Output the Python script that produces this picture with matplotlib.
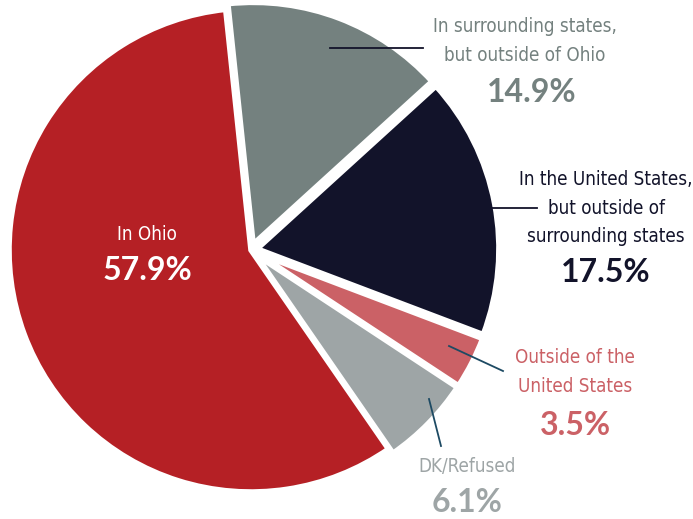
import matplotlib.pyplot as plt

# Werte aus der Grafik
labels = [
    "In surrounding states,\nbut outside of Ohio",
    "In the United States,\nbut outside of\nsurrounding states",
    "Outside of the\nUnited States",
    "DK/Refused",
    "In Ohio",
]
values = [14.9, 17.5, 3.5, 6.1, 57.9]
pct_labels = ["14.9%", "17.5%", "3.5%", "6.1%", "57.9%"]
colors = ["#74817f", "#12132a", "#cb6166", "#9ea5a6", "#b52025"]
text_colors = ["#74817f", "#12132a", "#cb6166", "#9ea5a6", "white"]

W, H = 693, 519
CX, CY, R = 251, 250, 242


def px(x, y):
    """Pixelkoordinaten (von oben links) -> Datenkoordinaten."""
    return (x - CX) / R, (CY - y) / R


fig = plt.figure(figsize=(W / 100, H / 100), dpi=100)
ax = fig.add_axes([0, 0, 1, 1])

ax.pie(
    values,
    colors=colors,
    startangle=96,
    counterclock=False,
    radius=1.0,
    explode=[0.025, 0.025, 0.025, 0.025, 0.0],
    wedgeprops=dict(edgecolor="white", linewidth=4),
    frame=True,
)
ax.set_xlim(-CX / R, (W - CX) / R)
ax.set_ylim(-(H - CY) / R, CY / R)
ax.set_aspect("auto")
ax.axis("off")

# Beschriftung (Mitte des Textblocks) und Prozentwert
label_pos = [(525, 41), (606, 208), (575, 372), (467, 466), (147, 234)]
pct_pos = [(532, 92), (606, 272), (575, 425), (467, 503), (147, 270)]

for i in range(len(values)):
    x, y = px(*label_pos[i])
    ax.text(x, y, labels[i], ha="center", va="center", fontsize=13.5,
            family="DejaVu Sans", stretch="condensed", weight="light",
            color=text_colors[i], linespacing=1.62)
    x, y = px(*pct_pos[i])
    ax.text(x, y, pct_labels[i], ha="center", va="center", fontsize=23,
            family=["Lato", "DejaVu Sans"], weight="bold",
            color=text_colors[i])

# Verbindungslinien
leader_lines = [
    ((330, 48), (423, 48), "#12132a"),
    ((480, 208), (537, 208), "#12132a"),
    ((449, 346), (503, 371), "#1d4a63"),
    ((429, 399), (441, 446), "#1d4a63"),
]
for (x0, y0), (x1, y1), c in leader_lines:
    a = px(x0, y0)
    b = px(x1, y1)
    ax.plot([a[0], b[0]], [a[1], b[1]], color=c, linewidth=1.3)

fig.savefig("out.png", dpi=100)
